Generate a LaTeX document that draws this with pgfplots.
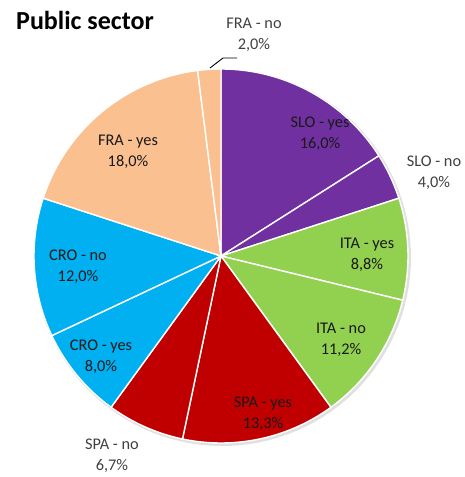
\documentclass[border=0pt]{standalone}
\usepackage{pgfplots}
\pgfplotsset{compat=1.18}
\usepackage{fontspec}
\setmainfont{Carlito}
\definecolor{cPur}{HTML}{7030A0}
\definecolor{cGrn}{HTML}{92D050}
\definecolor{cRed}{HTML}{C00000}
\definecolor{cBlu}{HTML}{00B0F0}
\definecolor{cPch}{HTML}{FAC090}
\definecolor{cOut}{HTML}{404040}
% slice values (percent), clockwise from 12 o'clock
\def\vA{16.0}\def\vB{4.0}\def\vC{8.8}\def\vD{11.2}\def\vE{13.3}
\def\vF{6.7}\def\vG{8.0}\def\vH{12.0}\def\vI{18.0}\def\vJ{2.0}
\newcommand{\lf}{\fontsize{16.3}{21.5}\selectfont}
\begin{document}
\begin{tikzpicture}
\begin{axis}[
  width=462pt, height=477pt, scale only axis,
  xmin=0, xmax=462, ymin=0, ymax=477,
  axis lines=none, clip=false,
]
\path (axis cs:0,0) rectangle (axis cs:462,477);
\pgfmathsetmacro{\cx}{221}\pgfmathsetmacro{\cy}{221}\pgfmathsetmacro{\R}{187}
% shadow
\addplot[fill=black, opacity=0.12, draw=none, domain=0:360, samples=120]
  ({\cx+1.5+(\R+1.5)*cos(x)},{\cy-1.5+(\R+1.5)*sin(x)});
% slices
\pgfmathsetmacro{\a}{90}
\pgfmathsetmacro{\b}{\a-3.6*\vA}
\addplot[fill=cPur, draw=white, line width=1.4pt, domain=\b:\a, samples=60]
  ({\cx+\R*cos(x)},{\cy+\R*sin(x)}) -- (axis cs:\cx,\cy) -- cycle;
\pgfmathsetmacro{\a}{\b}\pgfmathsetmacro{\b}{\a-3.6*\vB}
\addplot[fill=cPur, draw=white, line width=1.4pt, domain=\b:\a, samples=20]
  ({\cx+\R*cos(x)},{\cy+\R*sin(x)}) -- (axis cs:\cx,\cy) -- cycle;
\pgfmathsetmacro{\a}{\b}\pgfmathsetmacro{\b}{\a-3.6*\vC}
\addplot[fill=cGrn, draw=white, line width=1.4pt, domain=\b:\a, samples=30]
  ({\cx+\R*cos(x)},{\cy+\R*sin(x)}) -- (axis cs:\cx,\cy) -- cycle;
\pgfmathsetmacro{\a}{\b}\pgfmathsetmacro{\b}{\a-3.6*\vD}
\addplot[fill=cGrn, draw=white, line width=1.4pt, domain=\b:\a, samples=40]
  ({\cx+\R*cos(x)},{\cy+\R*sin(x)}) -- (axis cs:\cx,\cy) -- cycle;
\pgfmathsetmacro{\a}{\b}\pgfmathsetmacro{\b}{\a-3.6*\vE}
\addplot[fill=cRed, draw=white, line width=1.4pt, domain=\b:\a, samples=50]
  ({\cx+\R*cos(x)},{\cy+\R*sin(x)}) -- (axis cs:\cx,\cy) -- cycle;
\pgfmathsetmacro{\a}{\b}\pgfmathsetmacro{\b}{\a-3.6*\vF}
\addplot[fill=cRed, draw=white, line width=1.4pt, domain=\b:\a, samples=25]
  ({\cx+\R*cos(x)},{\cy+\R*sin(x)}) -- (axis cs:\cx,\cy) -- cycle;
\pgfmathsetmacro{\a}{\b}\pgfmathsetmacro{\b}{\a-3.6*\vG}
\addplot[fill=cBlu, draw=white, line width=1.4pt, domain=\b:\a, samples=30]
  ({\cx+\R*cos(x)},{\cy+\R*sin(x)}) -- (axis cs:\cx,\cy) -- cycle;
\pgfmathsetmacro{\a}{\b}\pgfmathsetmacro{\b}{\a-3.6*\vH}
\addplot[fill=cBlu, draw=white, line width=1.4pt, domain=\b:\a, samples=40]
  ({\cx+\R*cos(x)},{\cy+\R*sin(x)}) -- (axis cs:\cx,\cy) -- cycle;
\pgfmathsetmacro{\a}{\b}\pgfmathsetmacro{\b}{\a-3.6*\vI}
\addplot[fill=cPch, draw=white, line width=1.4pt, domain=\b:\a, samples=60]
  ({\cx+\R*cos(x)},{\cy+\R*sin(x)}) -- (axis cs:\cx,\cy) -- cycle;
\pgfmathsetmacro{\a}{\b}\pgfmathsetmacro{\b}{\a-3.6*\vJ}
\addplot[fill=cPch, draw=white, line width=1.4pt, domain=\b:\a, samples=10]
  ({\cx+\R*cos(x)},{\cy+\R*sin(x)}) -- (axis cs:\cx,\cy) -- cycle;
% leader line for FRA - no
\addplot[black, line width=0.9pt] coordinates {(210,409) (223,419) (237,419)};
% labels
\node[align=center, font=\lf, text=black!90] at (axis cs:320,343) {SLO - yes\\16,0\%};
\node[align=center, font=\lf, text=cOut] at (axis cs:434,304) {SLO - no\\4,0\%};
\node[align=center, font=\lf, text=black!90] at (axis cs:367,222) {ITA - yes\\8,8\%};
\node[align=center, font=\lf, text=black!90] at (axis cs:341,137) {ITA - no\\11,2\%};
\node[align=center, font=\lf, text=black!90] at (axis cs:263,63) {SPA - yes\\13,3\%};
\node[align=center, font=\lf, text=cOut] at (axis cs:112,21) {SPA - no\\6,7\%};
\node[align=center, font=\lf, text=black!90] at (axis cs:101,120) {CRO - yes\\8,0\%};
\node[align=center, font=\lf, text=black!90] at (axis cs:78,210) {CRO - no\\12,0\%};
\node[align=center, font=\lf, text=black!90] at (axis cs:128,325) {FRA - yes\\18,0\%};
\node[align=center, font=\lf, text=cOut] at (axis cs:254,442) {FRA - no\\2,0\%};
\node[anchor=base west, font=\bfseries\fontsize{26}{30}\selectfont, inner sep=0pt] at (axis cs:16,447) {Public sector};
\end{axis}
\end{tikzpicture}
\end{document}
